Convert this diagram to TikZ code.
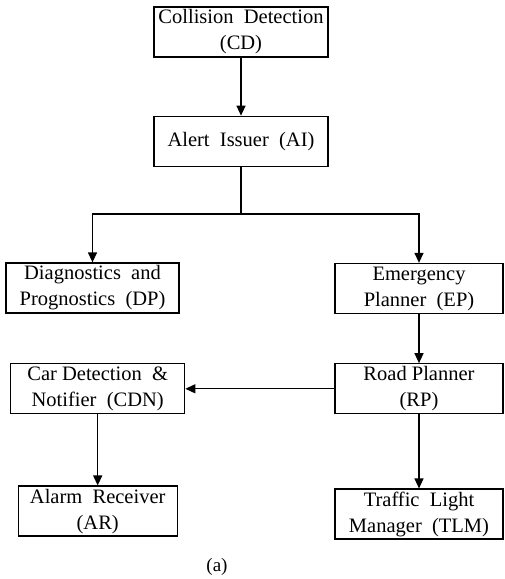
\documentclass[tikz,border=0pt]{standalone}
\usepackage{fontspec}
\setmainfont{Liberation Serif}
\usetikzlibrary{positioning,arrows.meta}
\tikzset{main node/.style={rectangle,draw,line width=1.3pt,minimum width=174pt,minimum height=50pt,inner sep=1pt,align=center,font=\fontsize{20.5}{26}\selectfont},
link/.style={line width=1.3pt,-{Triangle[length=10pt,width=9pt]}},
}

\begin{document}
\begin{tikzpicture}
				\useasboundingbox (0,0) rectangle (504pt,-579pt);
				\node[main node] (CD) at (241pt,-32pt) {Collision \ Detection\\(CD)};
				\node[main node] (AI) [below=58pt of CD] {Alert \ Issuer \ (AI)};
				\coordinate[below=47pt of AI.south] (bar);
				\node[main node,minimum width=173pt] (DP) at (92.5pt,-288pt) {Diagnostics \ and\\Prognostics \ (DP)};
				\node[main node,minimum width=168pt] (EP) at (419pt,-288.5pt) {Emergency\\Planner \ (EP)};
				\node[main node,minimum width=168pt] (RP) [below=49pt of EP] {Road Planner\\(RP)};
				\node[main node] (CDN) [left=149pt of RP] {Car Detection \ \&\\Notifier \ (CDN)};
				\node[main node,minimum width=159pt] (AR) [below=71pt of CDN] {Alarm \ Receiver\\(AR)};
				\node[main node,minimum width=168pt] (TLM) [below=74pt of RP] {Traffic \ Light\\Manager \ (TLM)};
				\node[font=\fontsize{19}{23}\selectfont] (cap) at (217pt,-567pt) {(a)};
				
				\draw[line width=1.3pt] (AI) -- (bar);
				\draw[link] (bar) -| (DP);
				\draw[link] (bar) -| (EP);
				\path[link]
				(CD) edge (AI)
				(EP) edge (RP)
				(RP) edge (CDN)
				(CDN) edge (AR)
				(RP) edge (TLM);
				
			\end{tikzpicture}
\end{document}
